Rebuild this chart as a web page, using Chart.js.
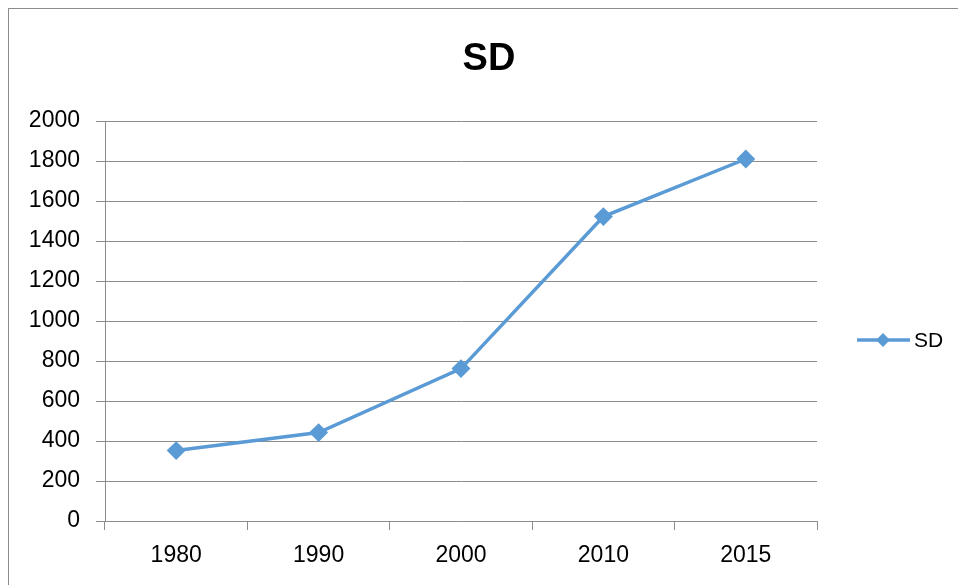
<!DOCTYPE html>
<html>
<head>
<meta charset="utf-8">
<script src="https://cdn.jsdelivr.net/npm/chart.js@4"></script>
<style>
  html, body { margin: 0; padding: 0; background: #fff; }
  #wrap { position: relative; width: 958px; height: 585px; }
  #frame { position: absolute; left: 8px; top: 8px; width: 960px; height: 600px;
           border: 1px solid #8c8c8c; pointer-events: none; }
</style>
</head>
<body>
<div id="wrap">
  <canvas id="chart" width="958" height="585"></canvas>
  <div id="frame"></div>
</div>
<script>
// data
const years = ["1980", "1990", "2000", "2010", "2015"];
const sdValues = [352, 442, 762, 1522, 1810];
const yTicks = [0, 200, 400, 600, 800, 1000, 1200, 1400, 1600, 1800, 2000];
const chartTitle = "SD";

const blue = "#5B9BD5";
const grey = "#8c8c8c";
const font = "'Liberation Sans', Arial, sans-serif";

// title and legend drawn by hand, the plot sits left of centre like the original
const extras = {
  id: "extras",
  afterDraw(chart) {
    const ctx = chart.ctx;
    const ds = chart.data.datasets[0];
    ctx.save();
    // title
    ctx.fillStyle = "#000";
    ctx.font = "bold 38px " + font;
    ctx.textAlign = "center";
    ctx.textBaseline = "middle";
    ctx.fillText(chartTitle, 489, 60);
    // legend
    const y = 340;
    ctx.strokeStyle = ds.borderColor;
    ctx.lineWidth = 3.5;
    ctx.beginPath();
    ctx.moveTo(857, y);
    ctx.lineTo(910, y);
    ctx.stroke();
    ctx.fillStyle = ds.backgroundColor;
    ctx.beginPath();
    ctx.moveTo(883, y - 7);
    ctx.lineTo(890, y);
    ctx.lineTo(883, y + 7);
    ctx.lineTo(876, y);
    ctx.closePath();
    ctx.fill();
    ctx.fillStyle = "#000";
    ctx.font = "21px " + font;
    ctx.textAlign = "left";
    ctx.fillText(ds.label, 914, y + 1);
    ctx.restore();
  }
};

const ctx = document.getElementById("chart");

new Chart(ctx, {
  type: "line",
  data: {
    labels: years,
    datasets: [
      {
        label: "SD",
        data: sdValues,
        borderColor: blue,
        backgroundColor: blue,
        borderWidth: 3.5,
        pointStyle: "rectRot",
        pointRadius: 7,
        pointHoverRadius: 7,
        tension: 0,
      },
    ],
  },
  options: {
    responsive: false,
    animation: false,
    events: [],
    layout: { padding: { left: 0, right: 141, top: 121, bottom: 0 } },
    plugins: {
      legend: { display: false },
      tooltip: { enabled: false },
      title: { display: false },
    },
    scales: {
      x: {
        offset: true,
        grid: {
          offset: true,
          drawOnChartArea: false,
          drawTicks: true,
          tickLength: 9,
          color: grey,
        },
        border: { color: grey, width: 1 },
        ticks: {
          color: "#000",
          font: { family: font, size: 23 },
          padding: 12,
          maxRotation: 0,
        },
        afterFit(scale) { scale.height = 64; },
      },
      y: {
        min: 0,
        max: 2000,
        afterBuildTicks(scale) {
          scale.ticks = yTicks.map((v) => ({ value: v }));
        },
        grid: {
          color: grey,
          drawTicks: true,
          tickLength: 9,
        },
        border: { color: grey, width: 1 },
        ticks: {
          color: "#000",
          font: { family: font, size: 23 },
          padding: 16,
          callback: (v) => String(v),
        },
        afterFit(scale) { scale.width = 105; },
      },
    },
  },
  plugins: [extras],
});
</script>
</body>
</html>
